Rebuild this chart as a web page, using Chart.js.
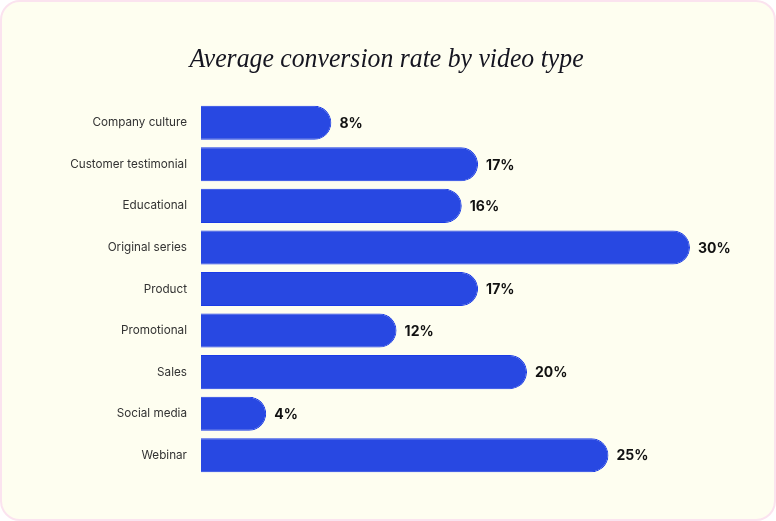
<!DOCTYPE html>
<html>
<head>
<meta charset="utf-8">
<script src="https://cdn.jsdelivr.net/npm/chart.js@4.4.0/dist/chart.umd.min.js"></script>
<style>
  html, body { margin: 0; padding: 0; background: #ffffff; }
  #card {
    position: relative;
    width: 776px; height: 521px;
    box-sizing: border-box;
    border: 2px solid #fbe3ef;
    border-radius: 20px;
    background: #fefef0;
    overflow: hidden;
  }
  #wrap { position: absolute; left: -2px; top: -2px; width: 776px; height: 521px; }
</style>
</head>
<body>
<div id="card"><div id="wrap"><canvas id="c"></canvas></div></div>
<script>
const chartTitle = "Average conversion rate by video type";
const categories = ["Company culture", "Customer testimonial", "Educational", "Original series", "Product", "Promotional", "Sales", "Social media", "Webinar"];
const rates = [8, 17, 16, 30, 17, 12, 20, 4, 25];

const titlePlugin = {
  id: 'titlePlugin',
  afterDraw(chart) {
    const ctx = chart.ctx;
    ctx.save();
    ctx.font = 'italic 28px "Liberation Serif", "DejaVu Serif", serif';
    ctx.fillStyle = '#151520';
    ctx.textAlign = 'center';
    ctx.textBaseline = 'alphabetic';
    ctx.translate(386.5, 67);
    ctx.scale(0.92, 1);
    ctx.fillText(chartTitle, 0, 0);
    ctx.restore();
  }
};

const valueLabels = {
  id: 'valueLabels',
  afterDatasetsDraw(chart) {
    const ctx = chart.ctx;
    const meta = chart.getDatasetMeta(0);
    ctx.save();
    ctx.font = 'bold 14px Inter, "Noto Sans", sans-serif';
    ctx.fillStyle = '#111111';
    ctx.textAlign = 'left';
    ctx.textBaseline = 'middle';
    meta.data.forEach((bar, i) => {
      ctx.fillText(rates[i] + '%', bar.x + 8, bar.y + 1);
    });
    ctx.restore();
  }
};

new Chart(document.getElementById('c'), {
  type: 'bar',
  data: {
    labels: categories,
    datasets: [{
      data: rates,
      backgroundColor: '#2848e2',
      borderColor: '#1a3be6',
      borderWidth: 1,
      borderSkipped: 'start',
      borderRadius: { topLeft: 0, bottomLeft: 0, topRight: 17, bottomRight: 17 },
      barPercentage: 0.82,
      categoryPercentage: 1.0
    }]
  },
  options: {
    indexAxis: 'y',
    responsive: true,
    maintainAspectRatio: false,
    animation: false,
    layout: { padding: { top: 102, bottom: 45, right: 86, left: 0 } },
    plugins: {
      legend: { display: false },
      title: { display: false },
      tooltip: { enabled: false }
    },
    scales: {
      x: {
        display: false,
        min: 0,
        max: 30
      },
      y: {
        afterFit(scale) { scale.width = 201; },
        grid: { display: false, drawTicks: false },
        border: { display: false },
        ticks: {
          padding: 14,
          color: '#333333',
          font: { family: 'Inter, "Noto Sans", sans-serif', size: 11.7 }
        }
      }
    }
  },
  plugins: [titlePlugin, valueLabels]
});
</script>
</body>
</html>
